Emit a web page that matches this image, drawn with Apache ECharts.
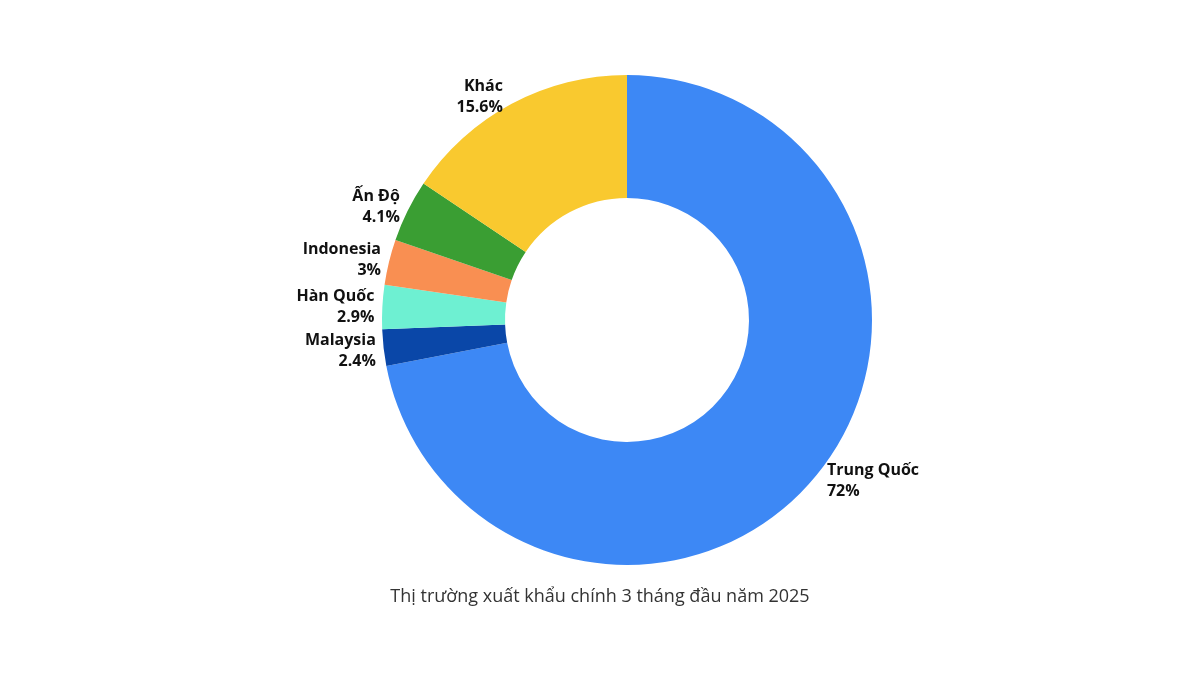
<!DOCTYPE html>
<html>
<head>
<meta charset="utf-8">
<script src="https://cdn.jsdelivr.net/npm/echarts@6/dist/echarts.min.js"></script>
<style>html,body{margin:0;background:#fff}#main{width:1200px;height:675px}</style>
</head>
<body>
<div id="main"></div>
<script>
var markets = ["Trung Quốc", "Malaysia", "Hàn Quốc", "Indonesia", "Ấn Độ", "Khác"];
var shares = [72, 2.4, 2.9, 3, 4.1, 15.6];
var colors = ["#3d88f5", "#0a47a8", "#6ef0d2", "#f98f52", "#3a9e33", "#f9c92f"];

var chart = echarts.init(document.getElementById('main'));
chart.setOption({
    animation: false,
    color: colors,
    title: {
        text: 'Thị trường xuất khẩu chính 3 tháng đầu năm 2025',
        left: 'center',
        top: 583,
        textStyle: { fontFamily: 'Open Sans', fontWeight: 'normal', fontSize: 18, color: '#333' }
    },
    series: [{
        type: 'pie',
        center: [627, 320],
        radius: [122, 245],
        startAngle: 90,
        clockwise: true,
        data: markets.map(function (m, i) { return { name: m, value: shares[i] }; }),
        label: {
            position: 'outside',
            formatter: '{b}\n{c}%',
            fontFamily: 'Open Sans',
            fontWeight: 'bold',
            fontSize: 16,
            lineHeight: 21,
            color: '#111',
            align: 'center'
        },
        labelLine: { show: false, length: 8, length2: 0 }
    }]
});
</script>
</body>
</html>
